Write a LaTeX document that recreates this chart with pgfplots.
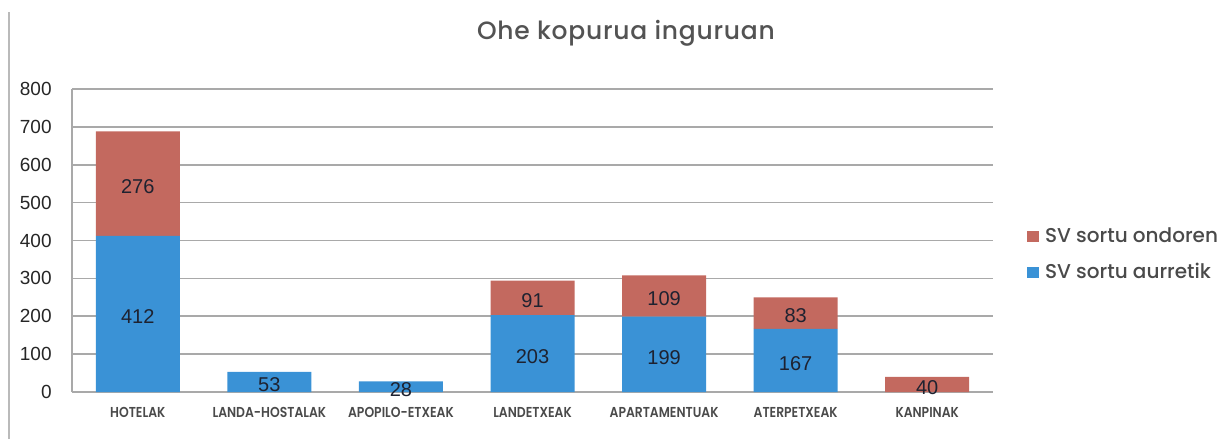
\documentclass[border=0pt]{standalone}
\usepackage{pgfplots}
\pgfplotsset{compat=1.18}
\usepackage{pgfplotstable}
\usepackage{fontspec}
\setmainfont{Liberation Sans}
\IfFontExistsTF{Poppins Medium}{%
  \newfontfamily\popt{Poppins Medium}[LetterSpace=3.0]%
  \newfontfamily\popl{Poppins Medium}%
}{%
  \newfontfamily\popt{Poppins}[LetterSpace=3.0]%
  \newfontfamily\popl{Poppins}%
}
\IfFontExistsTF{Poppins SemiBold}{%
  \newfontfamily\popc{Poppins SemiBold}[FakeStretch=0.86]%
}{%
  \newfontfamily\popc{Poppins Medium}[FakeStretch=0.86]%
}
\definecolor{barblue}{HTML}{3A92D6}
\definecolor{barred}{HTML}{C3695F}
\definecolor{gridgray}{HTML}{A9A9A9}
\definecolor{txtgray}{HTML}{4A4A4A}
\definecolor{numcol}{HTML}{1E2230}

\pgfplotstableread{
x before after
0 412 276
1 53 0
2 28 0
3 203 91
4 199 109
5 167 83
6 0 40
}\datatable

\pgfplotstableread{
x y lab
0 206 412
0 550 276
1 26.5 53
2 14 28
3 101.5 203
3 248.5 91
4 99.5 199
4 253.5 109
5 83.5 167
5 208.5 83
6 20 40
}\labtable

\begin{document}
\begin{tikzpicture}
\useasboundingbox (0,0) rectangle (614.5pt,219.5pt);
\draw[gridgray!80, line width=0.6pt] (4.5pt,0) -- (4.5pt,213.5pt);
\node[font=\popt\fontsize{12.5}{14}\selectfont, text=txtgray!95] at (313pt,203pt) {Ohe kopurua inguruan};

\pgfplotsset{basestyle/.style={
  at={(36pt,23.5pt)}, anchor=south west,
  scale only axis, width=460.5pt, height=151.5pt,
  xmin=-0.5, xmax=6.5, ymin=0, ymax=800,
}}

\begin{axis}[basestyle,
  ybar stacked, bar width=42pt,
  axis x line*=bottom, axis y line*=left,
  axis line style={gridgray, line width=0.8pt, -},
  ymajorgrids, grid style={gridgray, line width=0.8pt},
  major tick length=0pt,
  ytick={0,100,...,800},
  xtick={0,...,6},
  xticklabels={HOTELAK,LANDA-HOSTALAK,APOPILO-ETXEAK,LANDETXEAK,APARTAMENTUAK,ATERPETXEAK,KANPINAK},
  xticklabel style={font=\popc\fontsize{7.2}{8}\selectfont, text=txtgray, anchor=center, yshift=-10.25pt, inner sep=0pt},
  /pgf/number format/assume math mode=true,
  yticklabel style={font=\fontsize{9.5}{10}\selectfont, text=black!85, anchor=east, xshift=-10pt, inner sep=0pt},
  reverse legend,
  legend style={at={(1.037,0.449)}, anchor=west, draw=none, fill=none,
    font=\popl\fontsize{10}{12}\selectfont, text=txtgray,
    inner sep=0pt, row sep=9pt, column sep=3pt,
    nodes={inner sep=0pt, text height=7pt, text depth=2pt}},
  legend cell align=left,
  legend image code/.code={\fill[#1] (0pt,-2.2pt) rectangle (5.8pt,3.3pt);},
]
\addplot[fill=barblue, draw=none] table[x=x, y=before] {\datatable};
\addlegendentry{SV sortu aurretik}
\addplot[fill=barred, draw=none] table[x=x, y=after] {\datatable};
\addlegendentry{SV sortu ondoren}
\end{axis}

\begin{axis}[basestyle, hide axis, clip=false]
\addplot[draw=none, mark=none, nodes near coords, point meta=explicit symbolic,
  nodes near coords style={anchor=center, font=\fontsize{10}{12}\selectfont, text=numcol, yshift=-1.5pt}]
  table[x=x, y=y, meta=lab] {\labtable};
\end{axis}
\end{tikzpicture}
\end{document}
